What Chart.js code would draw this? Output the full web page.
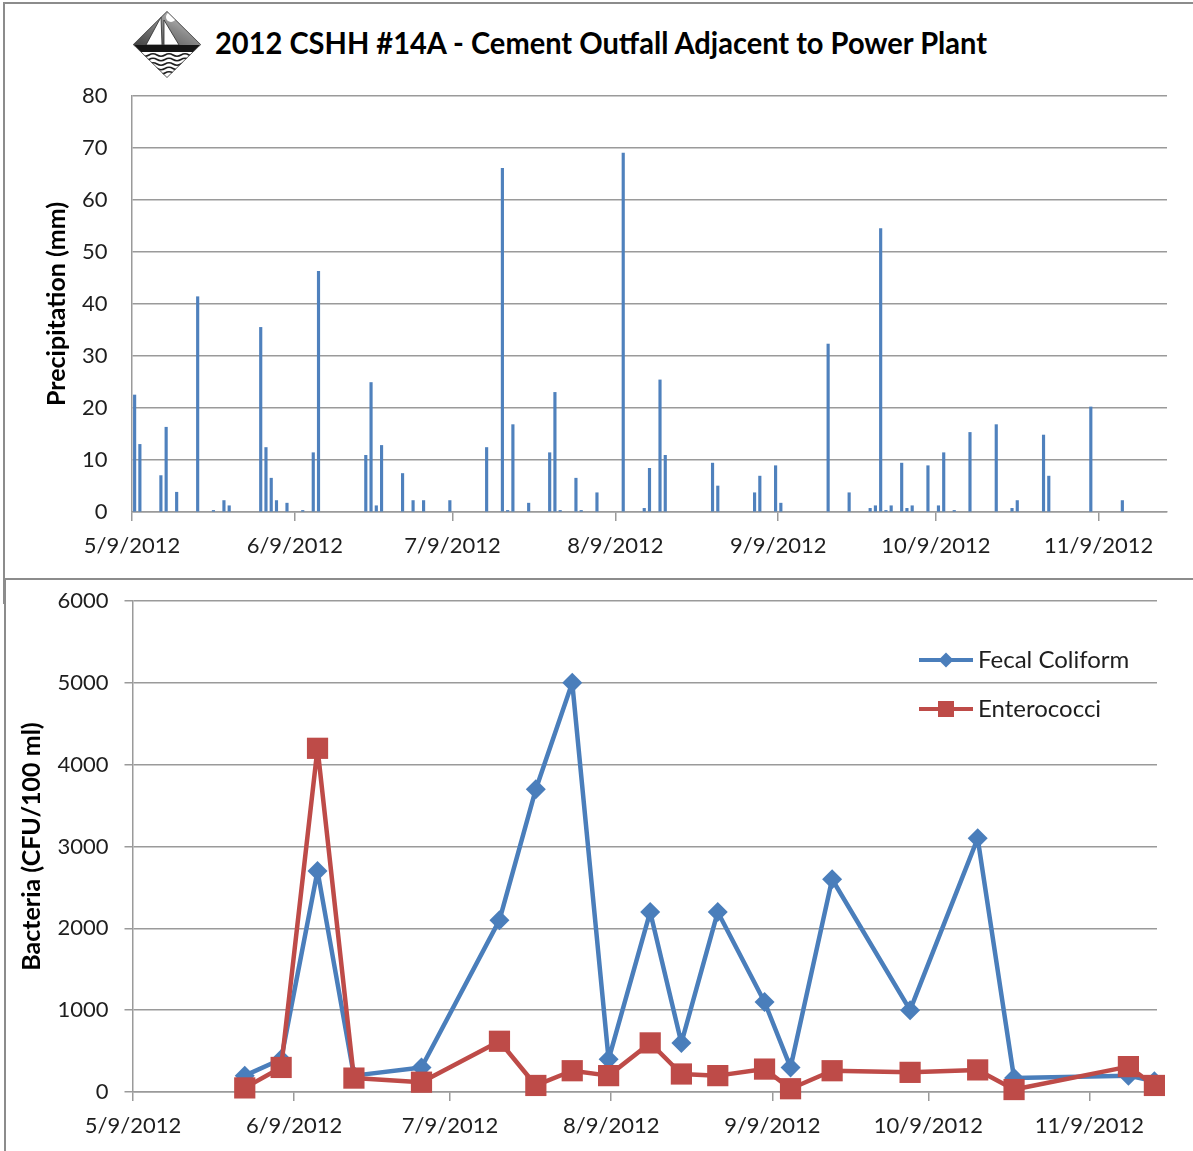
<!DOCTYPE html>
<html>
<head>
<meta charset="utf-8">
<title>2012 CSHH #14A - Cement Outfall Adjacent to Power Plant</title>
<script src="https://cdn.jsdelivr.net/npm/chart.js@4.4.1/dist/chart.umd.min.js"></script>
<style>
  html, body { margin: 0; padding: 0; background: #fff; }
  #page { position: relative; width: 1193px; height: 1151px; overflow: hidden; background: #fff; }
  .panel { position: absolute; border-top: 2px solid #8c8c8c; border-left: 2px solid #8c8c8c; }
  #topPanel { left: 3px; top: 2px; width: 1200px; height: 600px; }
  #bottomPanel { left: 4px; top: 578px; width: 1200px; height: 600px; background: #fff; }
  canvas { position: absolute; left: 0; }
  #precipCanvas { top: 0; }
  #bactCanvas { top: 571px; }
  #logo { position: absolute; left: 133px; top: 11px; }
  #title { position: absolute; left: 215px; top: 24px; font: bold 30px Lato; line-height: 36px;
           white-space: nowrap; transform-origin: 0 0; color: #000; }
</style>
</head>
<body>
<div id="page">
  <div class="panel" id="topPanel"></div>
  <div class="panel" id="bottomPanel"></div>

  <!-- sailboat emblem -->
  <svg id="logo" width="68" height="67" viewBox="0 0 68 67">
    <defs>
      <clipPath id="dia"><polygon points="34,0 68,33.5 34,67 0,33.5"/></clipPath>
      <linearGradient id="sky" x1="0" y1="1" x2="1" y2="0">
        <stop offset="0" stop-color="#3e3e3e"/>
        <stop offset="0.55" stop-color="#8a8a8a"/>
        <stop offset="1" stop-color="#e2e2e2"/>
      </linearGradient>
    </defs>
    <g clip-path="url(#dia)">
      <rect x="0" y="0" width="68" height="36" fill="url(#sky)"/>
      <circle cx="38" cy="6" r="5" fill="#fff"/>
      <polygon points="28,6 13,34 29,34" fill="#fff" stroke="#2a2a2a" stroke-width="0.8"/>
      <polygon points="31,9 46,34 31,34" fill="#fff" stroke="#2a2a2a" stroke-width="0.8"/>
      <rect x="0" y="34" width="68" height="7" fill="#151515"/>
      <rect x="0" y="41" width="68" height="26" fill="#fff"/>
      <path d="M0 44 q4 -2.5 8 0 t8 0 t8 0 t8 0 t8 0 t8 0 t8 0 t8 0 t8 0
               M0 48.5 q4 -2.5 8 0 t8 0 t8 0 t8 0 t8 0 t8 0 t8 0 t8 0 t8 0
               M0 53 q4 -2.5 8 0 t8 0 t8 0 t8 0 t8 0 t8 0 t8 0 t8 0 t8 0
               M0 57.5 q4 -2.5 8 0 t8 0 t8 0 t8 0 t8 0 t8 0 t8 0 t8 0 t8 0
               M0 62 q4 -2.5 8 0 t8 0 t8 0 t8 0 t8 0 t8 0 t8 0 t8 0 t8 0"
            fill="none" stroke="#1e1e1e" stroke-width="1.7"/>
    </g>
    <polygon points="34,0.5 67.5,33.5 34,66.5 0.5,33.5" fill="none" stroke="#555" stroke-width="1"/>
  </svg>
  <div id="title">2012 CSHH #14A - Cement Outfall Adjacent to Power Plant</div>

  <canvas id="precipCanvas" width="1193" height="578"></canvas>
  <canvas id="bactCanvas" width="1193" height="580"></canvas>
</div>

<script>
// date axis range and month ticks
const axisStart = '5/9/2012';
const axisEnd = '11/22/2012';
const xTickLabels = ['5/9/2012', '6/9/2012', '7/9/2012', '8/9/2012', '9/9/2012', '10/9/2012', '11/9/2012'];

// daily rainfall (mm)
const precipDates = [
  '5/9/2012', '5/10/2012', '5/14/2012', '5/15/2012', '5/17/2012', '5/21/2012', '5/24/2012', '5/26/2012',
  '5/27/2012', '6/2/2012', '6/3/2012', '6/4/2012', '6/5/2012', '6/7/2012', '6/10/2012', '6/12/2012',
  '6/13/2012', '6/22/2012', '6/23/2012', '6/24/2012', '6/25/2012', '6/29/2012', '7/1/2012', '7/3/2012',
  '7/8/2012', '7/15/2012', '7/18/2012', '7/19/2012', '7/20/2012', '7/23/2012', '7/27/2012', '7/28/2012',
  '7/29/2012', '8/1/2012', '8/2/2012', '8/5/2012', '8/10/2012', '8/14/2012', '8/15/2012', '8/17/2012',
  '8/18/2012', '8/27/2012', '8/28/2012', '9/4/2012', '9/5/2012', '9/8/2012', '9/9/2012', '9/18/2012',
  '9/22/2012', '9/26/2012', '9/27/2012', '9/28/2012', '9/29/2012', '9/30/2012', '10/2/2012', '10/3/2012',
  '10/4/2012', '10/7/2012', '10/9/2012', '10/10/2012', '10/12/2012', '10/15/2012', '10/20/2012', '10/23/2012',
  '10/24/2012', '10/29/2012', '10/30/2012', '11/7/2012', '11/13/2012'
];
const precipMm = [
  22.5, 13.0, 7.0, 16.3, 3.8, 41.4, 0.3, 2.2,
  1.2, 35.5, 12.4, 6.5, 2.2, 1.7, 0.3, 11.4,
  46.3, 10.9, 24.9, 1.2, 12.8, 7.4, 2.2, 2.2,
  2.2, 12.4, 66.1, 0.3, 16.8, 1.7, 11.4, 23.0,
  0.3, 6.5, 0.3, 3.7, 69.0, 0.7, 8.4, 25.4,
  10.9, 9.4, 5.0, 3.7, 6.9, 8.9, 1.7, 32.3,
  3.7, 0.7, 1.2, 54.5, 0.3, 1.2, 9.4, 0.7,
  1.2, 8.9, 1.2, 11.4, 0.3, 15.3, 16.8, 0.7,
  2.2, 14.8, 6.9, 20.2, 2.2
];

// bacteria samples (CFU/100 ml)
const sampleDates = [
  '5/30/2012', '6/6/2012', '6/13/2012', '6/20/2012', '7/3/2012', '7/18/2012', '7/25/2012', '8/1/2012',
  '8/8/2012', '8/16/2012', '8/22/2012', '8/29/2012', '9/7/2012', '9/12/2012', '9/20/2012', '10/5/2012',
  '10/18/2012', '10/25/2012', '11/16/2012', '11/21/2012'
];
const fecalColiform = [200, 400, 2700, 200, 300, 2100, 3700, 5000, 400, 2200, 600, 2200, 1100, 300, 2600, 1000, 3100, 170, 200, 130];
const enterococci = [50, 300, 4200, 170, 120, 620, 80, 260, 200, 600, 220, 200, 280, 40, 260, 240, 270, 30, 310, 80];

const BLUE = '#4A7EBB';
const RED = '#BE4B48';
const GRID = '#9a9a9a';
const TEXT = '#1e1e1e';

function dayOf(label) {
  const [m, d, y] = label.split('/').map(Number);
  const [m0, d0, y0] = axisStart.split('/').map(Number);
  return (Date.UTC(y, m - 1, d) - Date.UTC(y0, m0 - 1, d0)) / 86400000;
}
// each date sits in the middle of its one-day slot
const slotCenter = label => dayOf(label) + 0.5;

function dateAxis(tickLength, axisHeight) {
  return {
    type: 'linear',
    offset: false,
    min: 0,
    max: dayOf(axisEnd),
    afterBuildTicks: scale => { scale.ticks = xTickLabels.map(l => ({ value: dayOf(l) })); },
    afterFit: scale => { scale.height = axisHeight; },
    ticks: {
      autoSkip: false, maxRotation: 0, padding: 12, color: TEXT,
      callback: value => xTickLabels.find(l => dayOf(l) === value)
    },
    grid: { offset: false, drawOnChartArea: false, drawTicks: true, tickLength: tickLength, color: GRID, lineWidth: 1.5 },
    border: { color: GRID, width: 1.5 }
  };
}

// legend drawn inside the plot, upper right
const seriesKey = {
  id: 'seriesKey',
  afterDatasetsDraw(chart) {
    const { ctx, chartArea } = chart;
    const left = chartArea.right - 238;
    ctx.save();
    chart.data.datasets.forEach((ds, i) => {
      const y = chartArea.top + 59 + i * 49;
      ctx.strokeStyle = ds.borderColor;
      ctx.fillStyle = ds.borderColor;
      ctx.lineWidth = 4;
      ctx.beginPath();
      ctx.moveTo(left, y);
      ctx.lineTo(left + 54, y);
      ctx.stroke();
      const cx = left + 27;
      ctx.beginPath();
      if (ds.pointStyle === 'rect') {
        ctx.rect(cx - 8, y - 8, 16, 16);
      } else {
        ctx.moveTo(cx - 7.5, y); ctx.lineTo(cx, y - 7.5); ctx.lineTo(cx + 7.5, y); ctx.lineTo(cx, y + 7.5);
        ctx.closePath();
      }
      ctx.fill();
      ctx.fillStyle = TEXT;
      ctx.font = '24px Lato';
      ctx.textAlign = 'left';
      ctx.textBaseline = 'middle';
      ctx.fillText(ds.label, left + 59, y);
    });
    ctx.restore();
  }
};

function drawCharts() {
  Chart.defaults.font.family = 'Lato';
  Chart.defaults.font.size = 22;
  Chart.defaults.color = TEXT;

  new Chart(document.getElementById('precipCanvas'), {
    type: 'bar',
    data: {
      datasets: [{
        label: 'Precipitation (mm)',
        data: precipDates.map((d, i) => ({ x: slotCenter(d), y: precipMm[i] })),
        backgroundColor: '#4F81BD',
        borderWidth: 0,
        barThickness: 2.5
      }]
    },
    options: {
      responsive: false,
      animation: false,
      layout: { padding: { top: 96, right: 26, bottom: 0, left: 0 } },
      plugins: { legend: { display: false }, tooltip: { enabled: false } },
      scales: {
        x: dateAxis(9, 66),
        y: {
          min: 0, max: 80,
          afterFit: scale => { scale.width = 132; },
          ticks: { stepSize: 10, padding: 24.5, color: TEXT, callback: v => String(v) },
          grid: { drawTicks: false, color: GRID, lineWidth: 1.5 },
          border: { color: GRID, width: 1.5 },
          title: { display: true, text: 'Precipitation (mm)', font: { size: 25, weight: 'bold' },
                   color: '#000', padding: { top: 42, bottom: 0 } }
        }
      }
    }
  });

  new Chart(document.getElementById('bactCanvas'), {
    type: 'line',
    data: {
      datasets: [
        {
          label: 'Fecal Coliform',
          data: sampleDates.map((d, i) => ({ x: slotCenter(d), y: fecalColiform[i] })),
          borderColor: BLUE, backgroundColor: BLUE, borderWidth: 4.5, borderJoinStyle: 'round',
          pointStyle: 'rectRot', pointRadius: 10, pointBorderWidth: 0,
          tension: 0, order: 2, clip: 20
        },
        {
          label: 'Enterococci',
          data: sampleDates.map((d, i) => ({ x: slotCenter(d), y: enterococci[i] })),
          borderColor: RED, backgroundColor: RED, borderWidth: 4.5, borderJoinStyle: 'round',
          pointStyle: 'rect', pointRadius: 15, pointBorderWidth: 0,
          tension: 0, order: 1, clip: 20
        }
      ]
    },
    options: {
      responsive: false,
      animation: false,
      layout: { padding: { top: 30, right: 36, bottom: 0, left: 0 } },
      plugins: { legend: { display: false }, tooltip: { enabled: false } },
      scales: {
        x: dateAxis(9, 59),
        y: {
          min: 0, max: 6000,
          afterFit: scale => { scale.width = 133; },
          ticks: { stepSize: 1000, padding: 16, color: TEXT, callback: v => String(v) },
          grid: { drawTicks: true, tickLength: 8.5, color: GRID, lineWidth: 1.5 },
          border: { color: GRID, width: 1.5 },
          title: { display: true, text: 'Bacteria (CFU/100 ml)', font: { size: 25, weight: 'bold' },
                   color: '#000', padding: { top: 17, bottom: 0 } }
        }
      }
    },
    plugins: [seriesKey]
  });
}

function fitTitle() {
  const title = document.getElementById('title');
  const w = title.getBoundingClientRect().width;
  title.style.transform = 'scaleX(' + (772 / w) + ')';
}

Promise.all([
  document.fonts.load('22px Lato'),
  document.fonts.load('bold 25px Lato'),
  document.fonts.load('bold 30px Lato')
]).catch(() => {}).then(() => {
  fitTitle();
  drawCharts();
});
</script>
</body>
</html>
